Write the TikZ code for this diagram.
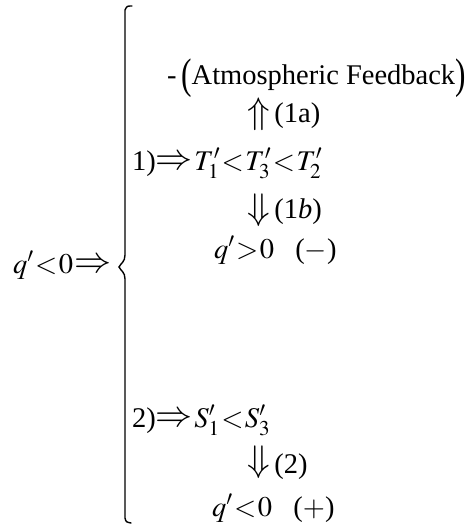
\documentclass[tikz,border=0pt]{standalone}
\usepackage{mathptmx}
\usepackage{fontspec}
\setmainfont{Liberation Serif}
\newcommand\bigimp{\mathrel{\vcenter{\hbox{\scalebox{1.3}{$\Rightarrow$}}}}}
\newcommand\upimp{\raisebox{-1pt}{\scalebox{1.3}{$\Uparrow$}}}
\newcommand\downimp{\raisebox{-1pt}{\scalebox{1.3}{$\Downarrow$}}}
\newcommand\tallparen[1]{\raisebox{-4pt}{\scalebox{1.1}[1.5]{#1}}}
\thickmuskip=1mu plus 1mu
\medmuskip=2mu

\tikzset{
  eqn/.style = {anchor = base west, inner sep = 0pt, outer sep = 0pt,
                font = \fontsize{28.5}{34}\selectfont},
  brace/.style = {line width = 1.4pt, line cap = round}
}

\begin{document}
\begin{tikzpicture}[x = 1pt, y = -1pt]

% frame of the page
\useasboundingbox (0, 0) rectangle (469, 525);

% left side
\node[eqn] (cause) at (13, 273) {$q'<0\bigimp$};

% the big brace
\draw[brace] (132, 6) .. controls (127, 6) .. (125, 10) -- (125, 255)
  .. controls (125, 262) and (121, 263) .. (119, 267)
  .. controls (121, 271) and (125, 272) .. (125, 279) -- (125, 518)
  .. controls (126, 522) .. (131, 523);

% case 1
\node[eqn] (feedback) at (167, 84)
  {-\,\tallparen{(}Atmospheric Feedback\tallparen{)}};
\node[eqn] (up1a)     at (247, 122) {\upimp\,(1a)};
\node[eqn] (temp)     at (132, 170) {1)$\bigimp T_1'<T_3'<T_2'$};
\node[eqn] (down1b)   at (247, 218) {\downimp\,(1\textit{b})};
\node[eqn] (qpos)     at (214, 258) {$q'>0$\hspace{0.75em}($-$)};

% case 2
\node[eqn] (salt)     at (132, 427) {2)$\bigimp S_1'<S_3'$};
\node[eqn] (down2)    at (247, 470) {\downimp\,\raisebox{-3pt}{(2)}};
\node[eqn] (qneg)     at (212, 516) {$q'<0$\hspace{0.75em}($+$)};

\end{tikzpicture}
\end{document}
